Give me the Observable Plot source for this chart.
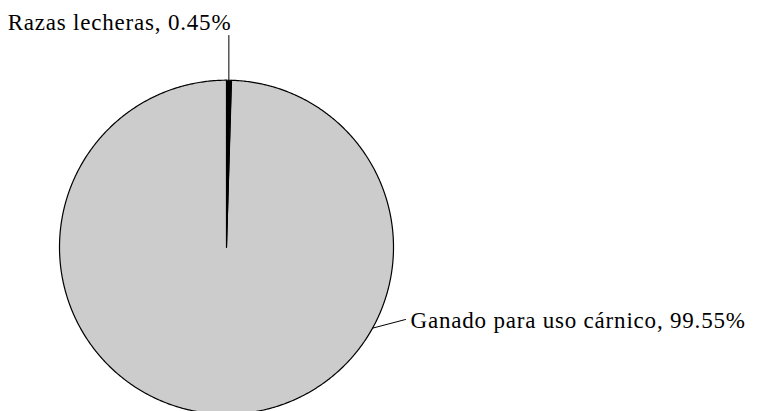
<!DOCTYPE html>
<html>
<head>
<meta charset="utf-8">
<script src="https://cdn.jsdelivr.net/npm/d3@7"></script>
<script src="https://cdn.jsdelivr.net/npm/@observablehq/plot@0.6"></script>
<style>
  html, body { margin: 0; padding: 0; background: #fff; }
</style>
</head>
<body>
<div id="chart"></div>
<script>
// Data
const categories = ["Razas lecheras", "Ganado para uso cárnico"];
const values = [0.45, 99.55];
const labelTexts = ["Razas lecheras, 0.45%", "Ganado para uso cárnico, 99.55%"];
const fills = ["#000000", "#cccccc"];

// Layout (pixels)
const W = 759, H = 411, CX = 226, CY = 246.7, R = 167;

const data = categories.map((c, i) => ({name: c, value: values[i], label: labelTexts[i], fill: fills[i]}));
const arcs = d3.pie().sort(null).value(d => d.value).startAngle(0).endAngle(2 * Math.PI)(data);

// Polygon points for each slice (unit circle, y up)
const pts = [];
for (const a of arcs) {
  const n = Math.max(2, Math.ceil((a.endAngle - a.startAngle) / (Math.PI / 360)));
  pts.push({name: a.data.name, x: 0, y: 0});
  for (let k = 0; k <= n; k++) {
    const t = a.startAngle + (a.endAngle - a.startAngle) * k / n;
    pts.push({name: a.data.name, x: Math.sin(t), y: Math.cos(t)});
  }
}

// px -> unit helpers for label layout
const ux = px => (px - CX) / R;
const uy = py => (CY - py) / R;

// Leader for small slice: vertical from arc at mid-angle up to label
const a0 = arcs[0], m0 = (a0.startAngle + a0.endAngle) / 2;
// Leader for large slice: from arc at a chosen angle to label
const attach1 = 119 * Math.PI / 180;
const leaders = [
  {name: categories[0], x: Math.sin(m0), y: Math.cos(m0)},
  {name: categories[0], x: Math.sin(m0), y: uy(35)},
  {name: categories[1], x: Math.sin(attach1), y: Math.cos(attach1)},
  {name: categories[1], x: ux(405), y: uy(319)}
];
const labelsLeft = [{text: data[0].label, x: Math.sin(m0) + ux(CX + 2.5), y: uy(29)}];
const labelsRight = [{text: data[1].label, x: ux(410), y: uy(327)}];

const plot = Plot.plot({
  width: W,
  height: H,
  margin: 0,
  x: {domain: [-1, 1], range: [CX - R, CX + R], axis: null},
  y: {domain: [-1, 1], range: [CY + R, CY - R], axis: null},
  color: {domain: categories, range: fills},
  style: {fontFamily: "'Liberation Serif', 'DejaVu Serif', serif", letterSpacing: "0.8px", background: "#fff"},
  marks: [
    Plot.line(pts.filter(d => d.name === categories[1]), {x: "x", y: "y", z: "name", fill: "name", stroke: "#000", strokeWidth: 1.2, curve: "linear-closed"}),
    Plot.line(pts.filter(d => d.name === categories[0]), {x: "x", y: "y", z: "name", fill: "name", stroke: "#000", strokeWidth: 1, curve: "linear-closed"}),
    Plot.line(leaders, {x: "x", y: "y", z: "name", stroke: "#000", strokeWidth: 1}),
    Plot.text(labelsLeft, {x: "x", y: "y", text: "text", textAnchor: "end", lineAnchor: "bottom", fontSize: 23, fill: "#000"}),
    Plot.text(labelsRight, {x: "x", y: "y", text: "text", textAnchor: "start", lineAnchor: "bottom", fontSize: 23, fill: "#000"})
  ]
});
document.getElementById("chart").appendChild(plot);
</script>
</body>
</html>
